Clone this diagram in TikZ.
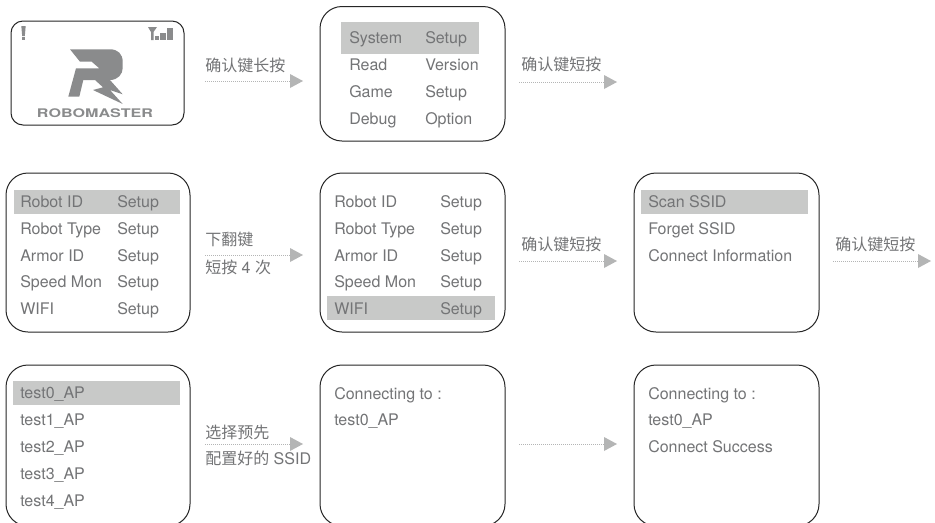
\documentclass[tikz,border=0pt]{standalone}
\usepackage{fontspec}
\setmainfont{TeX Gyre Heros}
\newfontfamily\cjk{Noto Sans CJK SC}
\definecolor{txt}{HTML}{737476}
\definecolor{hl}{HTML}{C8C9C8}
\definecolor{arr}{HTML}{B4B5B5}
\definecolor{logo}{HTML}{8A8B8C}
\tikzset{
  screen/.style={draw=black!85,line width=0.75pt,rounded corners=16.5pt},
  smallscreen/.style={draw=black!85,line width=0.75pt,rounded corners=9pt},
  hlbar/.style={fill=hl,draw=none},
  item/.style={anchor=base west,inner sep=0pt,text=txt,font=\fontsize{12}{14}\selectfont},
  lab/.style={anchor=base west,inner sep=0pt,text=txt,font=\fontsize{12}{14}\selectfont},
  flow/.style={draw=arr,line width=0.75pt,dash pattern=on 0.75pt off 0.75pt},
  tip/.style={fill=arr,draw=none}
}
\newcommand{\flowarrow}[4]{% name, x start, y, unused
  \coordinate (#1a) at (#2,#3);
  \coordinate (#1b) at (#2+85,#3);
  \draw[flow] (#1a) -- (#1b);
  \fill[tip] (#2+85,#3-7) -- (#2+98,#3) -- (#2+85,#3+7) -- cycle;
}
\begin{document}
\begin{tikzpicture}[x=0.75pt,y=-0.75pt]
\useasboundingbox (0,0) rectangle (935,522);
\fill[white] (0,0) rectangle (935,522);
% boxes
\draw[smallscreen] (11,21) rectangle (184,125);
\draw[screen] (320,6.5) rectangle (505,141);
\draw[screen] (6,173) rectangle (190,332);
\draw[screen] (320,173) rectangle (505,332);
\draw[screen] (634,173) rectangle (819,332);
\draw[screen] (6,365) rectangle (190,526);
\draw[screen] (320,365) rectangle (505,526);
\draw[screen] (634,365) rectangle (819,526);
% highlight bars
\fill[hlbar] (341,22) rectangle (479,54);
\fill[hlbar] (14,190) rectangle (180,214);
\fill[hlbar] (327,296) rectangle (495,320);
\fill[hlbar] (641,190) rectangle (808,214);
\fill[hlbar] (13,381) rectangle (180,405);
% logo screen
\fill[logo] (21.3,26) -- (25.7,26) -- (24.8,36) -- (22.2,36) -- cycle;
\fill[logo] (22,37) rectangle (25,40);
\fill[logo] (148,27) -- (157,27) -- (153.5,32) -- (153.5,40) -- (151,40) -- (151,32) -- cycle;
\fill[logo] (155,35.5) rectangle (158.5,40);
\fill[logo] (160,33) rectangle (166,40);
\fill[logo] (167,28) rectangle (173,40);
\fill[logo] (70,49.3) -- (110,49.3) .. controls (118,49.3) and (122.7,54) .. (122.7,62) -- (122.7,68) .. controls (122.7,74) and (118,80) .. (110,80) -- (122.7,94.3) -- (110,90) -- (122.7,104) -- (93,90) -- (103,87.3) -- (95,80) -- (83.3,80) -- (79.3,96.7) -- (68.3,96.7) -- (76,68.3) -- (99.3,68.3) -- (91.7,61.7) -- (80,61.7) -- cycle;
\node[anchor=center,inner sep=0pt,text=logo] (brand) at (95,113)
  {\resizebox{87pt}{6.6pt}{\bfseries ROBOMASTER}};
% menu 1
\node[item] (a1) at (349,43) {System};
\node[item] (a2) at (425,43) {Setup};
\node[item] (a3) at (349,70) {Read};
\node[item] (a4) at (425,70) {Version};
\node[item] (a5) at (349,97) {Game};
\node[item] (a6) at (425,97) {Setup};
\node[item] (a7) at (349,124) {Debug};
\node[item] (a8) at (425,124) {Option};
% menu 2 and 3
\foreach \xa/\xb/\pre in {20/117/b,334/440/c}{
  \node[item] (\pre1) at (\xa,207) {Robot ID};
  \node[item] (\pre2) at (\xb,207) {Setup};
  \node[item] (\pre3) at (\xa,234) {Robot Type};
  \node[item] (\pre4) at (\xb,234) {Setup};
  \node[item] (\pre5) at (\xa,261) {Armor ID};
  \node[item] (\pre6) at (\xb,261) {Setup};
  \node[item] (\pre7) at (\xa,287) {Speed Mon};
  \node[item] (\pre8) at (\xb,287) {Setup};
  \node[item] (\pre9) at (\xa,314) {WIFI};
  \node[item] (\pre0) at (\xb,314) {Setup};
}
% ssid menu
\node[item] (d1) at (648,207) {Scan SSID};
\node[item] (d2) at (648,234) {Forget SSID};
\node[item] (d3) at (648,261) {Connect Information};
% AP list
\node[item] (e0) at (20,398) {test0\_AP};
\node[item] (e1) at (20,425) {test1\_AP};
\node[item] (e2) at (20,452) {test2\_AP};
\node[item] (e3) at (20,479) {test3\_AP};
\node[item] (e4) at (20,506) {test4\_AP};
% connecting
\node[item] (f1) at (334,399) {Connecting to :};
\node[item] (f2) at (334,425) {test0\_AP};
\node[item] (g1) at (648,399) {Connecting to :};
\node[item] (g2) at (648,425) {test0\_AP};
\node[item] (g3) at (648,452) {Connect Success};
% arrows
\flowarrow{p}{205}{81}{}
\flowarrow{q}{519}{82}{}
\flowarrow{r}{205}{255}{}
\flowarrow{s}{519}{261}{}
\flowarrow{t}{833}{261}{}
\flowarrow{u}{205}{444}{}
\flowarrow{v}{519}{444}{}
% labels
\node[lab] (l1) at (205,71) {\cjk 确认键长按};
\node[lab] (l2) at (521,70) {\cjk 确认键短按};
\node[lab] (l3) at (205,245) {\cjk 下翻键};
\node[lab] (l4) at (205,273) {{\cjk 短按} 4 {\cjk 次}};
\node[lab] (l5) at (521,250) {\cjk 确认键短按};
\node[lab] (l6) at (835,250) {\cjk 确认键短按};
\node[lab] (l7) at (205,438) {\cjk 选择预先};
\node[lab] (l8) at (205,464) {{\cjk 配置好的} SSID};
\end{tikzpicture}
\end{document}
